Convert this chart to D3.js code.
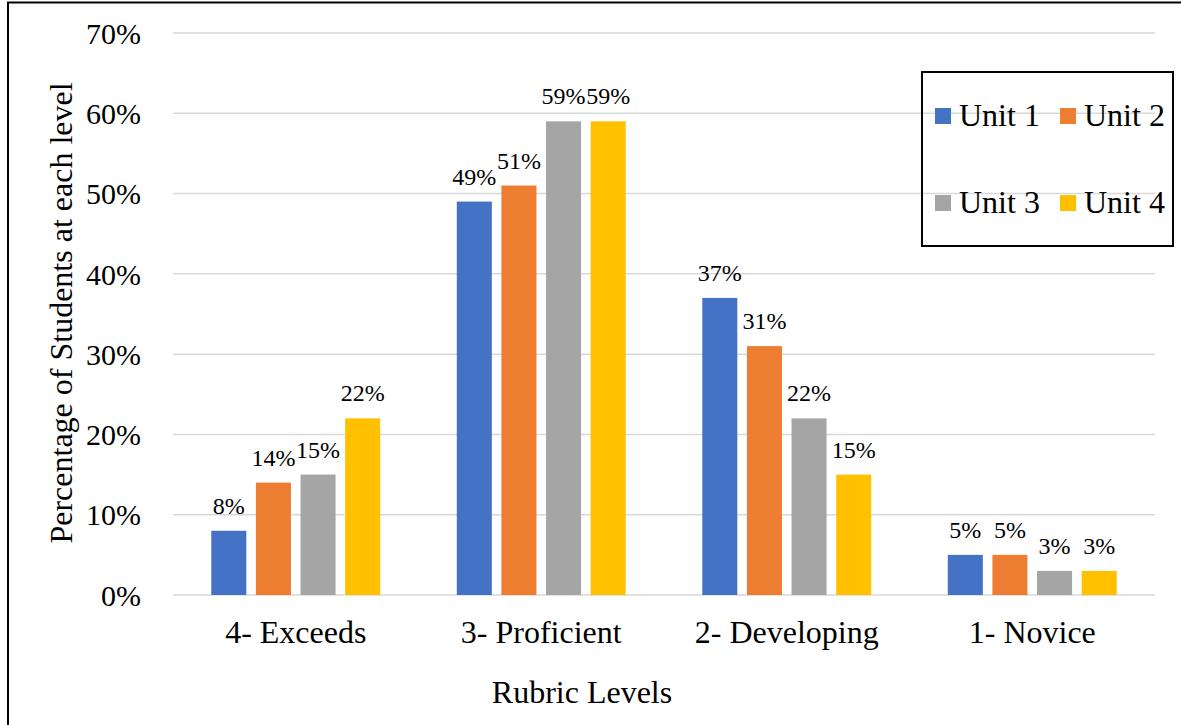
<!DOCTYPE html>
<html>
<head>
<meta charset="utf-8">
<script src="https://cdn.jsdelivr.net/npm/d3@7"></script>
</head>
<body style="margin:0;background:#fff">
<svg id="chart" width="1181" height="725" font-family="Liberation Serif"></svg>
<script>
const categories = ["4- Exceeds", "3- Proficient", "2- Developing", "1- Novice"];
const seriesNames = ["Unit 1", "Unit 2", "Unit 3", "Unit 4"];
const unit1 = [0.08, 0.49, 0.37, 0.05];
const unit2 = [0.14, 0.51, 0.31, 0.05];
const unit3 = [0.15, 0.59, 0.22, 0.03];
const unit4 = [0.22, 0.59, 0.15, 0.03];
const colors = ["#4472C4", "#ED7D31", "#A5A5A5", "#FFC000"];
const yTicks = [0, 0.1, 0.2, 0.3, 0.4, 0.5, 0.6, 0.7];
const xTitle = "Rubric Levels";
const yTitle = "Percentage of Students at each level";

const seriesValues = [unit1, unit2, unit3, unit4];
const FONT = "font-family:'Liberation Serif';fill:#000;";

const svg = d3.select("#chart");

// outer frame (left and top edges visible)
svg.append("path")
  .attr("d", "M8,725 L8,2.5 L1181,2.5")
  .attr("fill", "none").attr("stroke", "#000").attr("stroke-width", 2);

const plot = { left: 173, right: 1155, top: 33, bottom: 595 };

const x = d3.scaleBand().domain(categories).range([plot.left, plot.right]).padding(0);
const bw = x.bandwidth();
const xInner = d3.scaleBand().domain(seriesNames)
  .range([bw * 0.156, bw * 0.844]).paddingInner(0.215).paddingOuter(0);
const y = d3.scaleLinear().domain([0, 0.7]).range([plot.bottom, plot.top]);

// gridlines
svg.append("g").selectAll("line").data(yTicks).join("line")
  .attr("x1", plot.left).attr("x2", plot.right)
  .attr("y1", d => y(d)).attr("y2", d => y(d))
  .attr("stroke", "#d9d9d9").attr("stroke-width", 1.5);

// y axis labels
const yAxis = d3.axisLeft(y).tickValues(yTicks).tickFormat(d3.format(".0%")).tickSize(0).tickPadding(0);
const yg = svg.append("g").attr("transform", `translate(141,0)`).call(yAxis);
yg.attr("font-family", null).attr("font-size", null);
yg.select(".domain").remove();
yg.selectAll("text").attr("style", FONT + "font-size:30px").attr("dy", "0.34em");

// bars
const groups = svg.append("g").selectAll("g").data(categories).join("g")
  .attr("transform", d => `translate(${x(d)},0)`);

seriesNames.forEach((s, si) => {
  groups.append("rect")
    .attr("x", xInner(s))
    .attr("y", (d, i) => y(seriesValues[si][i]))
    .attr("width", xInner.bandwidth())
    .attr("height", (d, i) => y(0) - y(seriesValues[si][i]))
    .attr("fill", colors[si]);
  groups.append("text")
    .attr("x", xInner(s) + xInner.bandwidth() / 2)
    .attr("y", (d, i) => y(seriesValues[si][i]) - 17)
    .attr("text-anchor", "middle")
    .attr("style", FONT + "font-size:24px")
    .text((d, i) => d3.format(".0%")(seriesValues[si][i]));
});

// x axis labels
const xAxis = d3.axisBottom(x).tickSize(0).tickPadding(0);
const xg = svg.append("g").attr("transform", `translate(0,${plot.bottom})`).call(xAxis);
xg.attr("font-family", null).attr("font-size", null);
xg.select(".domain").remove();
xg.selectAll("text").attr("style", FONT + "font-size:32px").attr("y", 48).attr("dy", 0);

// axis titles
svg.append("text").attr("x", 582).attr("y", 703).attr("text-anchor", "middle")
  .attr("style", FONT + "font-size:32px").text(xTitle);
svg.append("text").attr("transform", "translate(72,313) rotate(-90)").attr("text-anchor", "middle")
  .attr("style", FONT + "font-size:32px").text(yTitle);

// legend
const legend = svg.append("g");
legend.append("rect").attr("x", 922).attr("y", 72).attr("width", 251).attr("height", 174)
  .attr("fill", "none").attr("stroke", "#000").attr("stroke-width", 2);
const legPos = [[935, 108], [1060, 108], [935, 195], [1060, 195]];
seriesNames.forEach((s, i) => {
  const [lx, ly] = legPos[i];
  legend.append("rect").attr("x", lx).attr("y", ly).attr("width", 16).attr("height", 16).attr("fill", colors[i]);
  legend.append("text").attr("x", lx + 24).attr("y", ly + 18).attr("style", FONT + "font-size:32px").text(s);
});
</script>
</body>
</html>
